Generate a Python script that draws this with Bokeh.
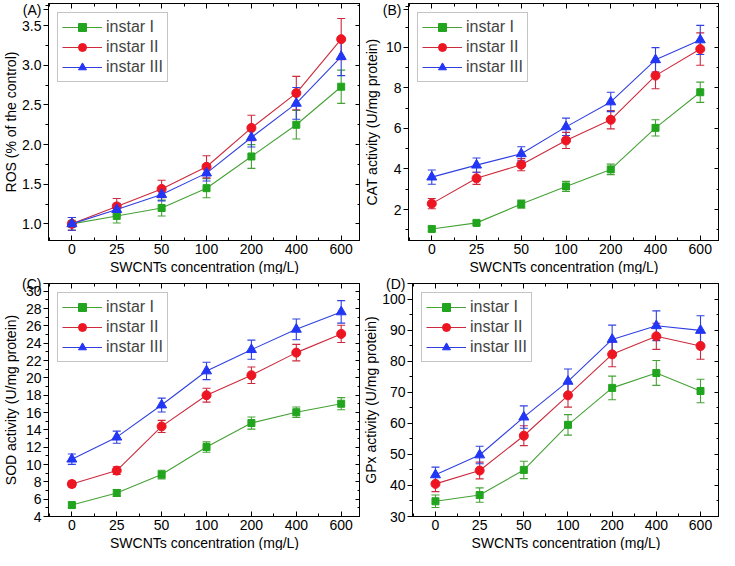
from bokeh.plotting import figure
from bokeh.models import (Range1d, FixedTicker, LinearAxis, Whisker, ColumnDataSource,
                          Legend, LegendItem, Title)
from bokeh.layouts import column, row
from bokeh.embed import file_html
from bokeh.resources import INLINE

concentrations = ["0", "25", "50", "100", "200", "400", "600"]
series_names = ["instar I", "instar II", "instar III"]
x_title = "SWCNTs concentration (mg/L)"

ros_i = [1.00, 1.10, 1.20, 1.45, 1.85, 2.25, 2.73]
ros_i_err = [0.08, 0.09, 0.10, 0.12, 0.15, 0.18, 0.21]
ros_ii = [1.00, 1.22, 1.44, 1.72, 2.21, 2.65, 3.33]
ros_ii_err = [0.08, 0.10, 0.11, 0.14, 0.16, 0.21, 0.26]
ros_iii = [1.00, 1.18, 1.37, 1.64, 2.09, 2.52, 3.11]
ros_iii_err = [0.08, 0.08, 0.08, 0.10, 0.12, 0.20, 0.24]
ros_ticks = [1.0, 1.5, 2.0, 2.5, 3.0, 3.5]

cat_i = [1.04, 1.34, 2.27, 3.14, 3.98, 6.03, 7.79]
cat_i_err = [0.10, 0.10, 0.20, 0.25, 0.26, 0.40, 0.50]
cat_ii = [2.29, 3.54, 4.21, 5.41, 6.43, 8.61, 9.92]
cat_ii_err = [0.25, 0.30, 0.30, 0.40, 0.45, 0.65, 0.80]
cat_iii = [3.60, 4.19, 4.75, 6.08, 7.31, 9.39, 10.37]
cat_iii_err = [0.35, 0.35, 0.35, 0.43, 0.48, 0.60, 0.72]
cat_ticks = [2, 4, 6, 8, 10]

sod_i = [5.32, 6.72, 8.84, 12.02, 14.79, 16.04, 17.02]
sod_i_err = [0.30, 0.40, 0.50, 0.60, 0.70, 0.60, 0.70]
sod_ii = [7.75, 9.30, 14.40, 18.00, 20.31, 22.92, 25.08]
sod_ii_err = [0.35, 0.45, 0.70, 0.80, 0.95, 0.95, 1.00]
sod_iii = [10.62, 13.16, 16.87, 20.80, 23.26, 25.61, 27.62]
sod_iii_err = [0.60, 0.70, 0.80, 1.00, 1.10, 1.20, 1.30]
sod_ticks = [4, 6, 8, 10, 12, 14, 16, 18, 20, 22, 24, 26, 28, 30]

gpx_i = [34.9, 36.9, 45.0, 59.5, 71.4, 76.2, 70.4]
gpx_i_err = [2.0, 2.3, 2.8, 3.3, 3.8, 4.0, 3.8]
gpx_ii = [40.5, 44.8, 56.0, 69.0, 82.2, 88.0, 84.9]
gpx_ii_err = [2.5, 2.7, 3.2, 3.8, 4.0, 4.2, 4.3]
gpx_iii = [43.4, 49.8, 62.0, 73.5, 87.0, 91.4, 89.9]
gpx_iii_err = [2.5, 2.8, 3.6, 4.0, 4.6, 4.8, 4.7]
gpx_ticks = [30, 40, 50, 60, 70, 80, 90, 100]

FONT = "Liberation Sans"
LINE_COLORS = ["#46a236", "#cc2a3c", "#3040e0"]
MARK_COLORS = ["#22a51e", "#ee1522", "#2236f5"]
MARKERS = ["square", "circle", "triangle"]
MARK_SIZES = [7, 9, 10]


def make_panel(letter, letter_pos, ylabel, data, yrange, yticks, yminor, yfmt,
               width, height, bl, br, bt):
    p = figure(width=width, height=height, output_backend="svg", toolbar_location=None,
               x_range=Range1d(-0.52, 6.43), y_range=Range1d(*yrange),
               min_border_left=bl, min_border_right=br, min_border_top=bt,
               min_border_bottom=0, background_fill_color="white",
               border_fill_color="white")
    p.grid.visible = False
    p.outline_line_color = "black"
    p.outline_line_width = 1

    xs = list(range(len(concentrations)))
    xminor = [i + 0.5 for i in range(-1, 7)]
    xa = p.xaxis[0]
    xa.ticker = FixedTicker(ticks=xs, minor_ticks=xminor)
    xa.major_label_overrides = {i: c for i, c in enumerate(concentrations)}
    ya = p.yaxis[0]
    # the panel letter is shown as an extra label beside the top of the y axis
    ya.ticker = FixedTicker(ticks=list(yticks) + [letter_pos], minor_ticks=yminor)
    overrides = {t: (yfmt % t) for t in yticks}
    overrides[letter_pos] = letter
    ya.major_label_overrides = overrides
    ya.axis_label = ylabel
    for ax in (xa, ya):
        ax.axis_line_color = "black"
        ax.major_tick_line_color = "black"
        ax.minor_tick_line_color = "black"
        ax.major_label_text_font = FONT
        ax.major_label_text_font_size = "14px"
        ax.major_label_text_color = "black"
        ax.axis_label_text_font = FONT
        ax.axis_label_text_font_size = "14px"
        ax.axis_label_text_font_style = "normal"
        ax.axis_label_text_color = "black"
    xa.major_tick_in = 5
    xa.major_tick_out = 0
    xa.minor_tick_in = 3
    xa.minor_tick_out = 0
    xa.major_label_standoff = 3
    ya.major_tick_in = 0
    ya.major_tick_out = 5
    ya.minor_tick_in = 0
    ya.minor_tick_out = 3
    ya.major_label_standoff = 2
    ya.axis_label_standoff = 0

    p.add_layout(Title(text=x_title, align="center", text_font=FONT,
                       text_font_size="14px", text_font_style="normal",
                       text_color="black", standoff=0, offset=0), "below")

    top = LinearAxis(ticker=FixedTicker(ticks=xs, minor_ticks=xminor),
                     major_label_text_font_size="1px", major_label_text_color=None,
                     major_label_standoff=0,
                     major_tick_in=5, major_tick_out=0, minor_tick_in=3, minor_tick_out=0,
                     axis_line_color="black")
    right = LinearAxis(ticker=FixedTicker(ticks=yticks, minor_ticks=yminor),
                       major_label_text_font_size="1px", major_label_text_color=None,
                       major_label_standoff=0,
                       major_tick_in=5, major_tick_out=0, minor_tick_in=3, minor_tick_out=0,
                       axis_line_color="black")
    p.add_layout(top, "above")
    p.add_layout(right, "right")

    items = []
    for k, (vals, errs) in enumerate(data):
        src = ColumnDataSource(dict(x=xs, y=vals,
                                    lo=[v - e for v, e in zip(vals, errs)],
                                    hi=[v + e for v, e in zip(vals, errs)]))
        w = Whisker(base="x", lower="lo", upper="hi", source=src,
                    line_color=LINE_COLORS[k], line_width=1.1)
        for hd in (w.upper_head, w.lower_head):
            hd.line_color = LINE_COLORS[k]
            hd.size = 8
            hd.line_width = 1.1
        p.add_layout(w)
        ln = p.line("x", "y", source=src, line_color=LINE_COLORS[k], line_width=1.1)
        mk = p.scatter("x", "y", source=src, marker=MARKERS[k], size=MARK_SIZES[k],
                       fill_color=MARK_COLORS[k], line_color=MARK_COLORS[k])
        items.append(LegendItem(label=series_names[k], renderers=[ln, mk]))

    leg = Legend(items=items, location="top_left", margin=9,
                 label_text_font=FONT, label_text_font_size="16px",
                 glyph_width=40, glyph_height=20, label_height=20, label_standoff=4,
                 spacing=0, padding=4, border_line_color="#8a8a8a", border_line_width=1,
                 background_fill_alpha=1.0)
    p.add_layout(leg)
    return p


pa = make_panel("(A)", 3.70, "ROS (% of the control)",
                [(ros_i, ros_i_err), (ros_ii, ros_ii_err), (ros_iii, ros_iii_err)],
                (0.79, 3.78), ros_ticks, [0.75 + 0.25 * i for i in range(13)], "%.1f",
                360, 274, 43, 0, 3)
pb = make_panel("(B)", 11.87, "CAT activity (U/mg protein)",
                [(cat_i, cat_i_err), (cat_ii, cat_ii_err), (cat_iii, cat_iii_err)],
                (0.47, 12.17), cat_ticks, list(range(1, 13)), "%d",
                359, 274, 46, 0, 3)
pc = make_panel("(C)", 30.88, "SOD activity (U/mg protein)",
                [(sod_i, sod_i_err), (sod_ii, sod_ii_err), (sod_iii, sod_iii_err)],
                (4, 30.9), sod_ticks, list(range(4, 31)), "%d",
                360, 276, 43, 0, 9)
pd_ = make_panel("(D)", 104.97, "GPx activity (U/mg protein)",
                 [(gpx_i, gpx_i_err), (gpx_ii, gpx_ii_err), (gpx_iii, gpx_iii_err)],
                 (30, 105), gpx_ticks, list(range(30, 106, 5)), "%d",
                 359, 276, 46, 0, 9)

layout = column(row(pa, pb, spacing=0), row(pc, pd_, spacing=0), spacing=0)
open("out.html", "w").write(file_html(layout, INLINE))
